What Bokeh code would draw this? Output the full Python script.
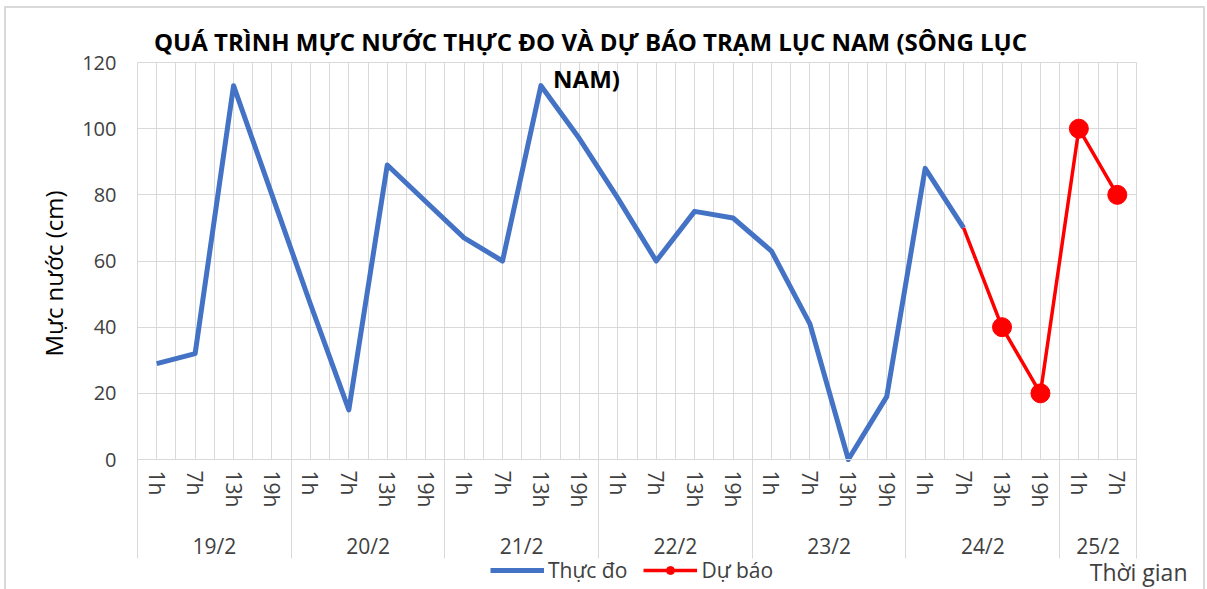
from bokeh.plotting import figure
from bokeh.models import (FactorRange, Range1d, Legend, LegendItem, Label, Title,
                          FixedTicker, Grid, InlineStyleSheet)
from bokeh.embed import file_html
from bokeh.resources import INLINE

# ---------------- data ----------------
days = ["19/2", "20/2", "21/2", "22/2", "23/2", "24/2", "25/2"]
day_hours = [["1h", "7h", "13h", "19h"]] * 6 + [["1h", "7h"]]
observed = [29, 32, 113, 80, 47, 15, 89, 78, 67, 60, 113, 97,
            79, 60, 75, 73, 63, 41, 0, 19, 88, 70]
forecast = [70, 40, 20, 100, 80]
y_ticks = [0, 20, 40, 60, 80, 100, 120]
title_lines = ["QUÁ TRÌNH MỰC NƯỚC THỰC ĐO VÀ DỰ BÁO TRẠM LỤC NAM (SÔNG LỤC", "NAM)"]
y_label = "Mực nước (cm)"
x_label = "Thời gian"
series_names = ["Thực đo", "Dự báo"]

PAD = "  "  # leading spaces: push the date row further from the axis
factors = [(d, PAD + h) for d, hs in zip(days, day_hours) for h in hs]
obs_x = factors[:len(observed)]
fc_x = factors[len(observed) - 1:]
n = len(factors)
bounds_idx = [0]
for hs in day_hours:
    bounds_idx.append(bounds_idx[-1] + len(hs))

FONT = "Open Sans"
BLUE = "#4472C4"
RED = "#FF0000"
GRID = "#d9d9d9"
TXT = "#404040"

# layout (pixels): plot area of the source spans x 137..1136, y 62..459
W, H = 1207, 589
FL, FR = 78, 1195           # frame (extended, symmetric around the category area)
cat_w = (1136 - 137) / n
pad_units = ((FR - FL) / cat_w - n) / 2
px_per_unit = (459 - 62) / 120.0
y_top = 120 + 62 / px_per_unit
y_bot = -(H - 459) / px_per_unit
TXT_SHIFT = 9.5             # baseline correction for screen-unit labels

border_css = InlineStyleSheet(css="""
:host { position: relative; }
:host::after { content: ""; position: absolute; left: 4px; top: 6px; width: 1201px; height: 583px;
  box-sizing: border-box; border: 2px solid #d9d9d9; border-bottom: none;
  pointer-events: none; z-index: 10; }
""")

p = figure(width=W, height=H, output_backend="svg", toolbar_location=None,
           x_range=FactorRange(*factors, factor_padding=0, group_padding=0,
                               range_padding=pad_units, range_padding_units="absolute"),
           y_range=Range1d(y_bot, y_top),
           min_border_left=FL, min_border_right=W - FR, min_border_top=0, min_border_bottom=0,
           stylesheets=[border_css])

p.outline_line_color = None
p.background_fill_color = "white"
p.border_fill_color = "white"

has_cb = "cross_bounds" in Grid.properties()

# grids
p.xgrid.visible = False
p.ygrid.grid_line_color = GRID
p.ygrid.ticker = FixedTicker(ticks=y_ticks)
if has_cb:
    p.ygrid.cross_bounds = (0, n)
vgrid = Grid(dimension=0, ticker=FixedTicker(ticks=[i * 0.5 for i in range(2 * n + 1)]),
             grid_line_color=GRID)
sep = Grid(dimension=0, ticker=FixedTicker(ticks=bounds_idx), grid_line_color=GRID)
if has_cb:
    vgrid.cross_bounds = (0, y_ticks[-1])
    sep.cross_bounds = (-(558 - 459) / px_per_unit, 0)
p.add_layout(vgrid)
p.add_layout(sep)

# y axis (fixed at the left edge of the category area)
ya = p.yaxis[0]
ya.fixed_location = 0
ya.bounds = (0, 120)
ya.ticker = FixedTicker(ticks=y_ticks)
ya.axis_line_color = None
ya.major_tick_line_color = None
ya.minor_tick_line_color = None
ya.major_tick_out = 0
ya.major_tick_in = 0
ya.major_label_standoff = 21
ya.major_label_text_font = FONT
ya.major_label_text_font_size = "20px"
ya.major_label_text_color = TXT

# y-axis title in the left side panel
yt = Title(text=y_label, align="right", vertical_align="middle", offset=190, standoff=15,
           text_font=FONT, text_font_size="24px", text_font_style="normal",
           text_color="#000000")
p.add_layout(yt, "left")

# x axis (fixed at y = 0)
xa = p.xaxis[0]
xa.fixed_location = 0
xa.bounds = (0, n)
xa.axis_line_color = GRID
xa.major_tick_line_color = None
xa.minor_tick_line_color = None
xa.major_tick_out = 0
xa.major_tick_in = 0
xa.major_label_orientation = "vertical"
xa.major_label_text_font = FONT
xa.major_label_text_font_size = "21px"
xa.major_label_text_color = TXT
xa.major_label_standoff = 11
xa.group_text_font = FONT
xa.group_text_font_size = "21px"
xa.group_text_font_style = "normal"
xa.group_text_color = TXT
xa.separator_line_color = None

# series
r_obs = p.line(x=obs_x, y=observed, line_color=BLUE, line_width=5, line_join="round")
r_fc = p.line(x=fc_x, y=forecast, line_color=RED, line_width=3.5)
r_fcm = p.scatter(x=fc_x[1:], y=forecast[1:], size=19, fill_color=RED, line_color=RED)

legend = Legend(items=[LegendItem(label=series_names[0], renderers=[r_obs]),
                       LegendItem(label=series_names[1], renderers=[r_fc, r_fcm])],
                orientation="horizontal", location=(490 - FL, H - 584),
                label_text_font=FONT, label_text_font_size="21px", label_text_color=TXT,
                glyph_width=54, glyph_height=20, spacing=16, padding=1, margin=0,
                label_standoff=4, border_line_color=None, background_fill_alpha=0)
p.add_layout(legend)

# titles (screen units measured from the frame's bottom-left corner)
p.add_layout(Label(x=590 - FL, y=H - 50 + TXT_SHIFT, x_units="screen", y_units="screen",
                   text=title_lines[0], text_align="center", text_baseline="alphabetic",
                   text_font=FONT, text_font_size="24px", text_font_style="bold",
                   text_color="#000000"))
p.add_layout(Label(x=586 - FL, y=H - 87 + TXT_SHIFT, x_units="screen", y_units="screen",
                   text=title_lines[1], text_align="center", text_baseline="alphabetic",
                   text_font=FONT, text_font_size="24px", text_font_style="bold",
                   text_color="#000000"))
p.add_layout(Label(x=1187 - FL, y=H - 581 + TXT_SHIFT, x_units="screen", y_units="screen",
                   text=x_label, text_align="right", text_baseline="alphabetic",
                   text_font=FONT, text_font_size="23px", text_color=TXT))

open("out.html", "w").write(file_html(p, INLINE))
